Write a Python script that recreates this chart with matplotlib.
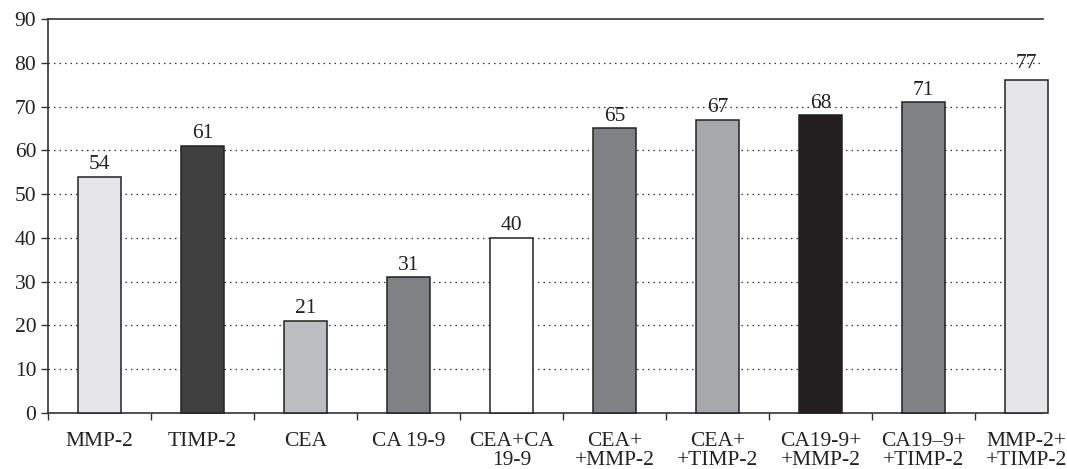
import matplotlib
matplotlib.use("Agg")
import matplotlib.pyplot as plt
import numpy as np

categorias = ["MMP-2", "TIMP-2", "CEA", "CA 19-9", "CEA+CA\n19-9",
              "CEA+\n+MMP-2", "CEA+\n+TIMP-2", "CA19-9+\n+MMP-2",
              "CA19–9+\n+TIMP-2", "MMP-2+\n+TIMP-2"]
valores = [54, 61, 21, 31, 40, 65, 67, 68, 71, 76]
rotulos = ["54", "61", "21", "31", "40", "65", "67", "68", "71", "77"]
cores = ["#e6e6e8", "#404040", "#bcbdc0", "#808184", "#ffffff",
         "#808184", "#a7a8ab", "#231f20", "#808184", "#e6e6e8"]
y_ticks = [0, 10, 20, 30, 40, 50, 60, 70, 80, 90]

plt.rcParams["font.family"] = ["Liberation Serif", "DejaVu Serif"]
plt.rcParams["font.size"] = 15.5

fig = plt.figure(figsize=(10.67, 4.69), dpi=100)
ax = fig.add_axes([0.045, 0.1194, 0.9775 - 0.045, 0.9595 - 0.1194])

x = np.arange(len(categorias))
ax.bar(x, valores, width=0.41, color=cores, edgecolor="#222222",
       linewidth=1.1, zorder=3, clip_on=False)

for xi, v, r in zip(x, valores, rotulos):
    ax.text(xi, max(v, float(r)) + 0.6, r, ha="center", va="bottom",
            fontsize=15.5, color="#222222", zorder=4)

ax.set_yticks(y_ticks)
ax.set_xticks(x)
ax.set_xticklabels(categorias, linespacing=0.95)
ax.set_xticks(np.arange(-0.5, 9.6, 1.0), minor=True)
ax.set_xlim(-0.5, 9.16)
ax.set_ylim(0, 90)
ax.tick_params(axis="x", which="major", length=0, pad=14, colors="#222222")
ax.tick_params(axis="x", which="minor", length=5, width=1, color="#333333")
ax.tick_params(axis="y", length=5, width=1, color="#333333", labelcolor="#222222")

for yv in y_ticks[1:-1]:
    ax.axhline(yv, color="#333333", linewidth=0.9,
               linestyle=(0, (1.2, 3.2)), zorder=1)

ax.spines["right"].set_visible(False)
for s in ["left", "bottom", "top"]:
    ax.spines[s].set_color("#333333")
    ax.spines[s].set_linewidth(1.2)

fig.savefig("out.png", dpi=100)
